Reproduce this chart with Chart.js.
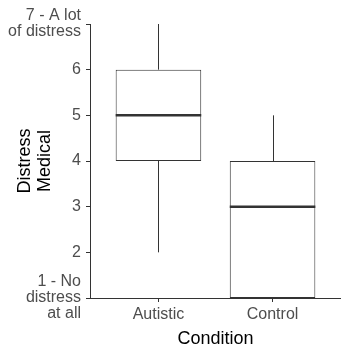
<!DOCTYPE html>
<html>
<head>
<meta charset="utf-8">
<script src="https://cdn.jsdelivr.net/npm/chart.js@4"></script>
<style>
  body { margin: 0; background: #fff; }
  #wrap { width: 341px; height: 349px; }
</style>
</head>
<body>
<div id="wrap"><canvas id="boxChart" width="341" height="349"></canvas></div>
<script>
// box stats per condition
const categories = ['Autistic', 'Control'];
const mins = [2, 1];
const q1s = [4, 1];
const medians = [5, 3];
const q3s = [6, 4];
const maxs = [7, 5];

const yTickValues = [1, 2, 3, 4, 5, 6, 7];
const yTickLabels = [['1 - No', 'distress', 'at all'], '2', '3', '4', '5', '6', ['7 - A lot', 'of distress']];

(function(){
    const FONT = "'Liberation Sans', Arial, sans-serif";

    // whiskers + median drawn from the scales
    const boxExtras = {
        id: 'boxExtras',
        afterDatasetsDraw(chart){
            const ctx = chart.ctx;
            const x = chart.scales.x;
            const y = chart.scales.y;
            const meta = chart.getDatasetMeta(0);
            ctx.save();
            categories.forEach(function(c, i){
                const cx = Math.round(x.getPixelForValue(i + 1)) + 0.5;
                const half = meta.data[i].width / 2;
                ctx.strokeStyle = '#333';
                ctx.lineWidth = 1;
                ctx.beginPath();
                ctx.moveTo(cx, y.getPixelForValue(q3s[i]));
                ctx.lineTo(cx, y.getPixelForValue(maxs[i]));
                ctx.moveTo(cx, y.getPixelForValue(q1s[i]));
                ctx.lineTo(cx, y.getPixelForValue(mins[i]));
                ctx.stroke();

                ctx.strokeStyle = '#333';
                ctx.lineWidth = 2.5;
                ctx.beginPath();
                const my = y.getPixelForValue(medians[i]);
                ctx.moveTo(meta.data[i].x - half, my);
                ctx.lineTo(meta.data[i].x + half, my);
                ctx.stroke();
            });
            ctx.restore();
        }
    };

    const boxData = categories.map(function(c, i){
        return { x: i + 1, y: [q1s[i], q3s[i]] };
    });

    const tickFont = { family: FONT, size: 16, lineHeight: 1.0 };
    const titleFont = { family: FONT, size: 18, lineHeight: 1.1 };

    new Chart(document.getElementById('boxChart').getContext('2d'), {
        type: 'bar',
        data: {
            datasets: [{
                data: boxData,
                backgroundColor: '#ffffff',
                borderColor: '#333',
                borderWidth: 1,
                borderSkipped: false,
                barPercentage: 0.75,
                categoryPercentage: 1
            }]
        },
        options: {
            responsive: false,
            animation: false,
            layout: { padding: { top: 24, right: 0, left: 0, bottom: 0 } },
            plugins: {
                legend: { display: false },
                tooltip: { enabled: false }
            },
            scales: {
                x: {
                    type: 'linear',
                    min: 0.4,
                    max: 2.6,
                    offset: false,
                    afterBuildTicks: function(scale){
                        scale.ticks = categories.map(function(c, i){ return { value: i + 1 }; });
                    },
                    afterFit: function(scale){ scale.height = 51; },
                    ticks: {
                        callback: function(v){ return categories[v - 1]; },
                        color: '#4d4d4d',
                        font: tickFont,
                        padding: 5,
                        maxRotation: 0,
                        autoSkip: false
                    },
                    grid: { offset: false, drawOnChartArea: false, drawTicks: true, tickLength: 4, tickColor: '#333' },
                    border: { display: true, color: '#333', width: 1 },
                    title: {
                        display: true,
                        text: 'Condition',
                        color: '#000',
                        font: titleFont,
                        padding: { top: 0, bottom: 0 }
                    }
                },
                y: {
                    min: 1,
                    max: 7,
                    afterBuildTicks: function(scale){
                        scale.ticks = yTickValues.map(function(v){ return { value: v }; });
                    },
                    afterFit: function(scale){ scale.width = 90; },
                    ticks: {
                        callback: function(v){ return yTickLabels[yTickValues.indexOf(v)]; },
                        color: '#4d4d4d',
                        font: tickFont,
                        padding: 5,
                        autoSkip: false
                    },
                    grid: { drawOnChartArea: false, drawTicks: true, tickLength: 4, tickColor: '#333' },
                    border: { display: true, color: '#333', width: 1 },
                    title: {
                        display: true,
                        text: ['Distress', 'Medical'],
                        color: '#000',
                        font: titleFont,
                        padding: { top: 15, bottom: 0 }
                    }
                }
            }
        },
        plugins: [boxExtras]
    });
})();
</script>
</body>
</html>
